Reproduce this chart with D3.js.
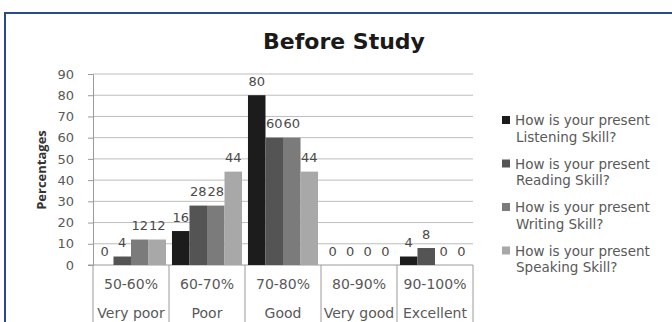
<!DOCTYPE html>
<html>
<head>
<meta charset="utf-8">
<script src="https://cdn.jsdelivr.net/npm/d3@7/dist/d3.min.js"></script>
<style>
  html, body { margin: 0; padding: 0; background: #fff; }
  svg { display: block; }
</style>
</head>
<body>
<svg id="chart" width="672" height="322"></svg>
<script>
// Score bands and their verbal ratings
const categories = ["50-60%", "60-70%", "70-80%", "80-90%", "90-100%"];
const ratings = ["Very poor", "Poor", "Good", "Very good", "Excellent"];

// Percentage of respondents per skill
const seriesNames = [
  ["How is your present", "Listening Skill?"],
  ["How is your present", "Reading Skill?"],
  ["How is your present", "Writing Skill?"],
  ["How is your present", "Speaking Skill?"]
];
const listening = [0, 16, 80, 0, 4];
const reading = [4, 28, 60, 0, 8];
const writing = [12, 28, 60, 0, 0];
const speaking = [12, 44, 44, 0, 0];

const yTicks = [0, 10, 20, 30, 40, 50, 60, 70, 80, 90];

const series = [listening, reading, writing, speaking];
const colors = ["#1c1c1c", "#545454", "#7b7b7b", "#a8a8a8"];

const svg = d3.select("#chart");
const font = "'DejaVu Sans', sans-serif";

// outer chart frame
svg.append("rect")
  .attr("x", 5).attr("y", 13)
  .attr("width", 700).attr("height", 340)
  .attr("fill", "#fff")
  .attr("stroke", "#2b4a8b").attr("stroke-width", 2);

const plot = { left: 93, right: 473, top: 74, bottom: 265 };

const x = d3.scaleBand()
  .domain(categories)
  .range([plot.left, plot.right])
  .paddingInner(0).paddingOuter(0);

const inner = d3.scaleBand()
  .domain(d3.range(series.length))
  .range([0, x.bandwidth()])
  .paddingOuter(0.17).paddingInner(0);

const y = d3.scaleLinear().domain([0, 90]).range([plot.bottom, plot.top]);

// gridlines
svg.append("g")
  .selectAll("line")
  .data(yTicks.filter(d => d > 0))
  .join("line")
  .attr("x1", plot.left).attr("x2", plot.right)
  .attr("y1", d => y(d)).attr("y2", d => y(d))
  .attr("stroke", "#bdbdbd").attr("stroke-width", 1);

// y axis
const yAxis = svg.append("g")
  .attr("transform", `translate(${plot.left},0)`)
  .call(d3.axisLeft(y).tickValues(yTicks).tickSize(5).tickPadding(14));
yAxis.select(".domain").attr("stroke", "#9a9a9a");
yAxis.selectAll(".tick line").attr("stroke", "#9a9a9a");
yAxis.selectAll("text")
  .attr("font-family", font).attr("font-size", 13)
  .attr("fill", "#595959");

// x axis line with category dividers running to the bottom
svg.append("line")
  .attr("x1", plot.left - 5).attr("x2", plot.right)
  .attr("y1", plot.bottom).attr("y2", plot.bottom)
  .attr("stroke", "#9a9a9a");
svg.append("g")
  .selectAll("line")
  .data(categories.map(c => x(c)).concat([plot.right]))
  .join("line")
  .attr("x1", d => d).attr("x2", d => d)
  .attr("y1", plot.bottom).attr("y2", 330)
  .attr("stroke", "#9a9a9a");

// category labels, two rows
const xl = svg.append("g")
  .attr("font-family", font).attr("font-size", 14)
  .attr("fill", "#595959").attr("text-anchor", "middle");
xl.selectAll("text.band")
  .data(categories)
  .join("text").attr("class", "band")
  .attr("x", d => x(d) + x.bandwidth() / 2)
  .attr("y", 289)
  .text(d => d);
xl.selectAll("text.rating")
  .data(ratings)
  .join("text").attr("class", "rating")
  .attr("x", (d, i) => x(categories[i]) + x.bandwidth() / 2)
  .attr("y", 318)
  .text(d => d);

// bars
const groups = svg.append("g")
  .selectAll("g")
  .data(series)
  .join("g")
  .attr("fill", (d, i) => colors[i]);

groups.selectAll("rect")
  .data((vals, si) => vals.map((v, ci) => ({ v, si, ci })))
  .join("rect")
  .attr("x", d => x(categories[d.ci]) + inner(d.si))
  .attr("y", d => y(d.v))
  .attr("width", inner.bandwidth())
  .attr("height", d => y(0) - y(d.v));

// value labels
svg.append("g")
  .attr("font-family", font).attr("font-size", 13)
  .attr("fill", "#4a4a4a").attr("text-anchor", "middle")
  .selectAll("text")
  .data(series.flatMap((vals, si) => vals.map((v, ci) => ({ v, si, ci }))))
  .join("text")
  .attr("x", d => x(categories[d.ci]) + inner(d.si) + inner.bandwidth() / 2)
  .attr("y", d => y(d.v) - 9.5)
  .text(d => d.v);

// title
svg.append("text")
  .attr("x", 344).attr("y", 49)
  .attr("text-anchor", "middle")
  .attr("font-family", font).attr("font-weight", "bold")
  .attr("font-size", 22).attr("fill", "#1a1a1a")
  .text("Before Study");

// y axis title
svg.append("text")
  .attr("transform", `translate(46,170) rotate(-90)`)
  .attr("text-anchor", "middle")
  .attr("font-family", "'Open Sans', sans-serif").attr("font-weight", "bold")
  .attr("font-size", 13).attr("fill", "#333")
  .text("Percentages");

// legend
const legend = svg.append("g")
  .attr("font-family", font).attr("font-size", 13.5).attr("fill", "#595959");
const item = legend.selectAll("g")
  .data(seriesNames)
  .join("g")
  .attr("transform", (d, i) => `translate(502,${120 + i * 43.5})`);
item.append("rect")
  .attr("x", 0).attr("y", -4).attr("width", 8).attr("height", 8)
  .attr("fill", (d, i) => colors[i]);
item.append("text")
  .attr("x", 13).attr("y", 5)
  .text(d => d[0]);
item.append("text")
  .attr("x", 14).attr("y", 21.5)
  .text(d => d[1]);
</script>
</body>
</html>
